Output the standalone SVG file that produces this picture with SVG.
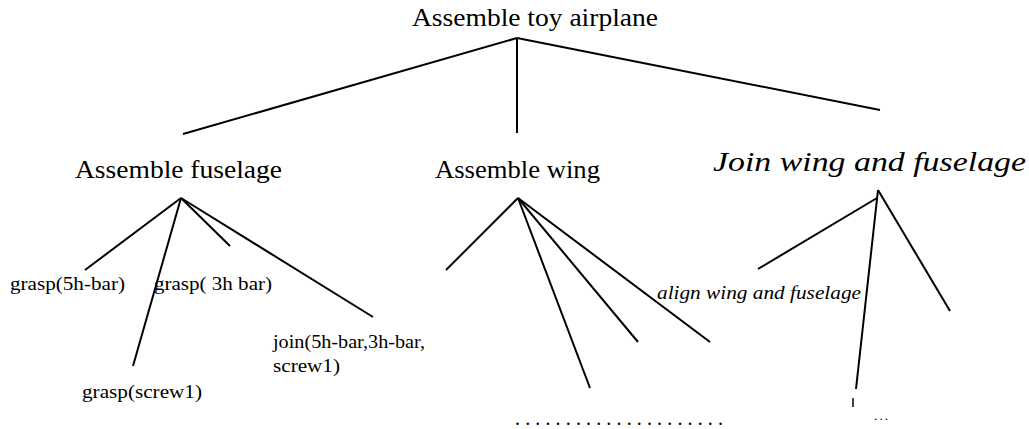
<svg xmlns="http://www.w3.org/2000/svg" width="1029" height="429" viewBox="0 0 1029 429" font-family="'Liberation Serif', 'Times New Roman', serif">
<style>
text{font-family:"Liberation Serif","Times New Roman",serif;fill:#000}
.big{font-size:25px}
.small{font-size:19px}
.it{font-style:italic}
.edge line{stroke:#000;stroke-width:2;stroke-linecap:butt}
</style>
<rect width="1029" height="429" fill="#fff"/>
<g class="edge" id="connectors">
<line x1="517" y1="38" x2="183" y2="134"/>
<line x1="517" y1="38" x2="517" y2="133"/>
<line x1="517" y1="38" x2="880" y2="110"/>
<line x1="181" y1="198" x2="85" y2="270"/>
<line x1="181" y1="198" x2="133" y2="366"/>
<line x1="181" y1="198" x2="230" y2="246"/>
<line x1="181" y1="198" x2="373" y2="317"/>
<line x1="518" y1="198" x2="446" y2="270"/>
<line x1="518" y1="198" x2="590" y2="388"/>
<line x1="518" y1="198" x2="638" y2="342"/>
<line x1="518" y1="198" x2="710" y2="342"/>
<line x1="877" y1="198" x2="758" y2="269"/>
<line x1="878" y1="190" x2="856" y2="389"/>
<line x1="853" y1="398" x2="853" y2="407" style="stroke-width:1.5"/>
<line x1="878" y1="190" x2="950" y2="311"/>
</g>
<g id="root"><text class="big" x="412" y="26" textLength="246" lengthAdjust="spacingAndGlyphs">Assemble toy airplane</text></g>
<g id="fuselage"><text class="big" x="75" y="178" textLength="207" lengthAdjust="spacingAndGlyphs">Assemble fuselage</text></g>
<g id="wing"><text class="big" x="435" y="178" textLength="165" lengthAdjust="spacingAndGlyphs">Assemble wing</text></g>
<g id="join"><text class="big it" x="713" y="171" textLength="313" lengthAdjust="spacingAndGlyphs" style="font-size:27px">Join wing and fuselage</text></g>
<g id="grasp5h"><text class="small" x="10" y="290" textLength="115" lengthAdjust="spacingAndGlyphs">grasp(5h-bar)</text></g>
<g id="grasp3h"><text class="small" x="154" y="290" textLength="118" lengthAdjust="spacingAndGlyphs">grasp( 3h bar)</text></g>
<g id="graspscrew"><text class="small" x="82" y="398" textLength="120" lengthAdjust="spacingAndGlyphs">grasp(screw1)</text></g>
<g id="joinparts"><text class="small" x="273" y="348" textLength="152" lengthAdjust="spacingAndGlyphs">join(5h-bar,3h-bar,</text><text class="small" x="273" y="372" textLength="67" lengthAdjust="spacingAndGlyphs">screw1)</text></g>
<g id="align"><text class="small it" x="657" y="299" textLength="204" lengthAdjust="spacingAndGlyphs" style="font-size:18px">align wing and fuselage</text></g>
<g id="wingdots"><text x="515" y="425" style="font-size:20px" textLength="208" lengthAdjust="spacing">.....................</text></g>
<g id="joindots"><text x="874" y="420" style="font-size:13px" textLength="14" lengthAdjust="spacing">...</text></g>
</svg>
